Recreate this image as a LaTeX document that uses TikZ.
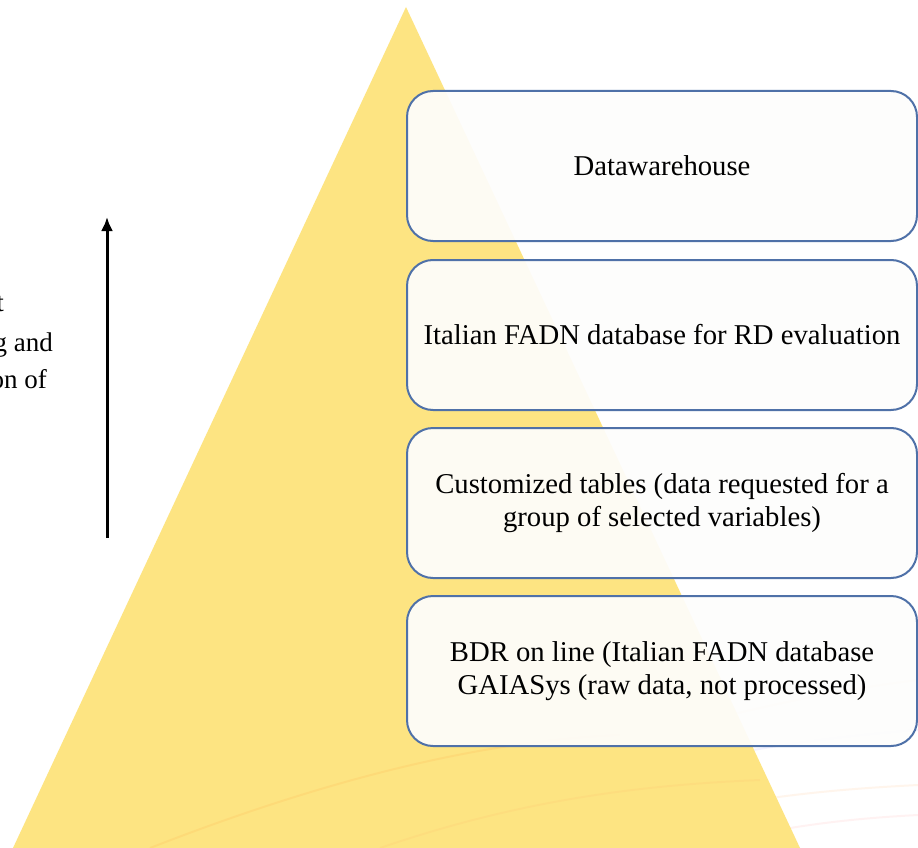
\documentclass[tikz,border=0pt]{standalone}
\usepackage{fontspec}
\setmainfont{Liberation Serif}
\usetikzlibrary{arrows.meta}
\definecolor{pyr}{RGB}{253,228,130}
\definecolor{boxline}{RGB}{79,113,168}
\definecolor{boxfill}{RGB}{253,253,252}
\begin{document}
\begin{tikzpicture}[x=1pt,y=-1pt,
  layerbox/.style={draw=boxline, line width=2pt, rounded corners=26pt, fill=boxfill, fill opacity=0.93, text opacity=1,
     minimum width=510pt, minimum height=150pt, align=center, font=\fontsize{28.7}{32.5}\selectfont, inner sep=0pt},
  sidetext/.style={font=\fontsize{27}{37}\selectfont, inner sep=0pt, anchor=base east},
  swoosh/.style={line width=2pt, opacity=0.12}]
\useasboundingbox (0,0) rectangle (918,848);
\fill[white] (0,0) rectangle (918,848);
% faint background swooshes
\draw[swoosh, orange!70] (300,848) .. controls (550,760) and (750,700) .. (918,680);
\draw[swoosh, blue!40] (400,848) .. controls (600,770) and (780,740) .. (918,730);
\draw[swoosh, orange!60] (560,848) .. controls (700,800) and (820,790) .. (918,785);
\draw[swoosh, red!40] (700,848) .. controls (780,825) and (860,818) .. (918,815);
% pyramid
\fill[pyr] (406,7) -- (800,848) -- (13,848) -- cycle;
\draw[swoosh, orange!80] (150,848) .. controls (350,770) and (500,740) .. (620,735);
\draw[swoosh, orange!60] (380,848) .. controls (520,800) and (640,785) .. (760,780);
% layers
\node[layerbox] (b1) at (662,166) {Datawarehouse};
\node[layerbox] (b2) at (662,335) {Italian FADN database for RD evaluation};
\node[layerbox] (b3) at (662,503) {Customized tables (data requested for a\\group of selected variables)};
\node[layerbox] (b4) at (662,671) {BDR on line (Italian FADN database\\GAIASys (raw data, not processed)};
% side text (cut off at left edge)
\node[sidetext] (t1) at (4,311) {t};
\node[sidetext] (t2) at (53,351) {g and};
\node[sidetext] (t3) at (47,388) {on of};
% arrow
\coordinate (a0) at (107,538);
\coordinate (a1) at (107,217);
\draw[line width=3pt, -{Latex[length=14pt,width=12pt]}] (a0) -- (a1);
\end{tikzpicture}
\end{document}
